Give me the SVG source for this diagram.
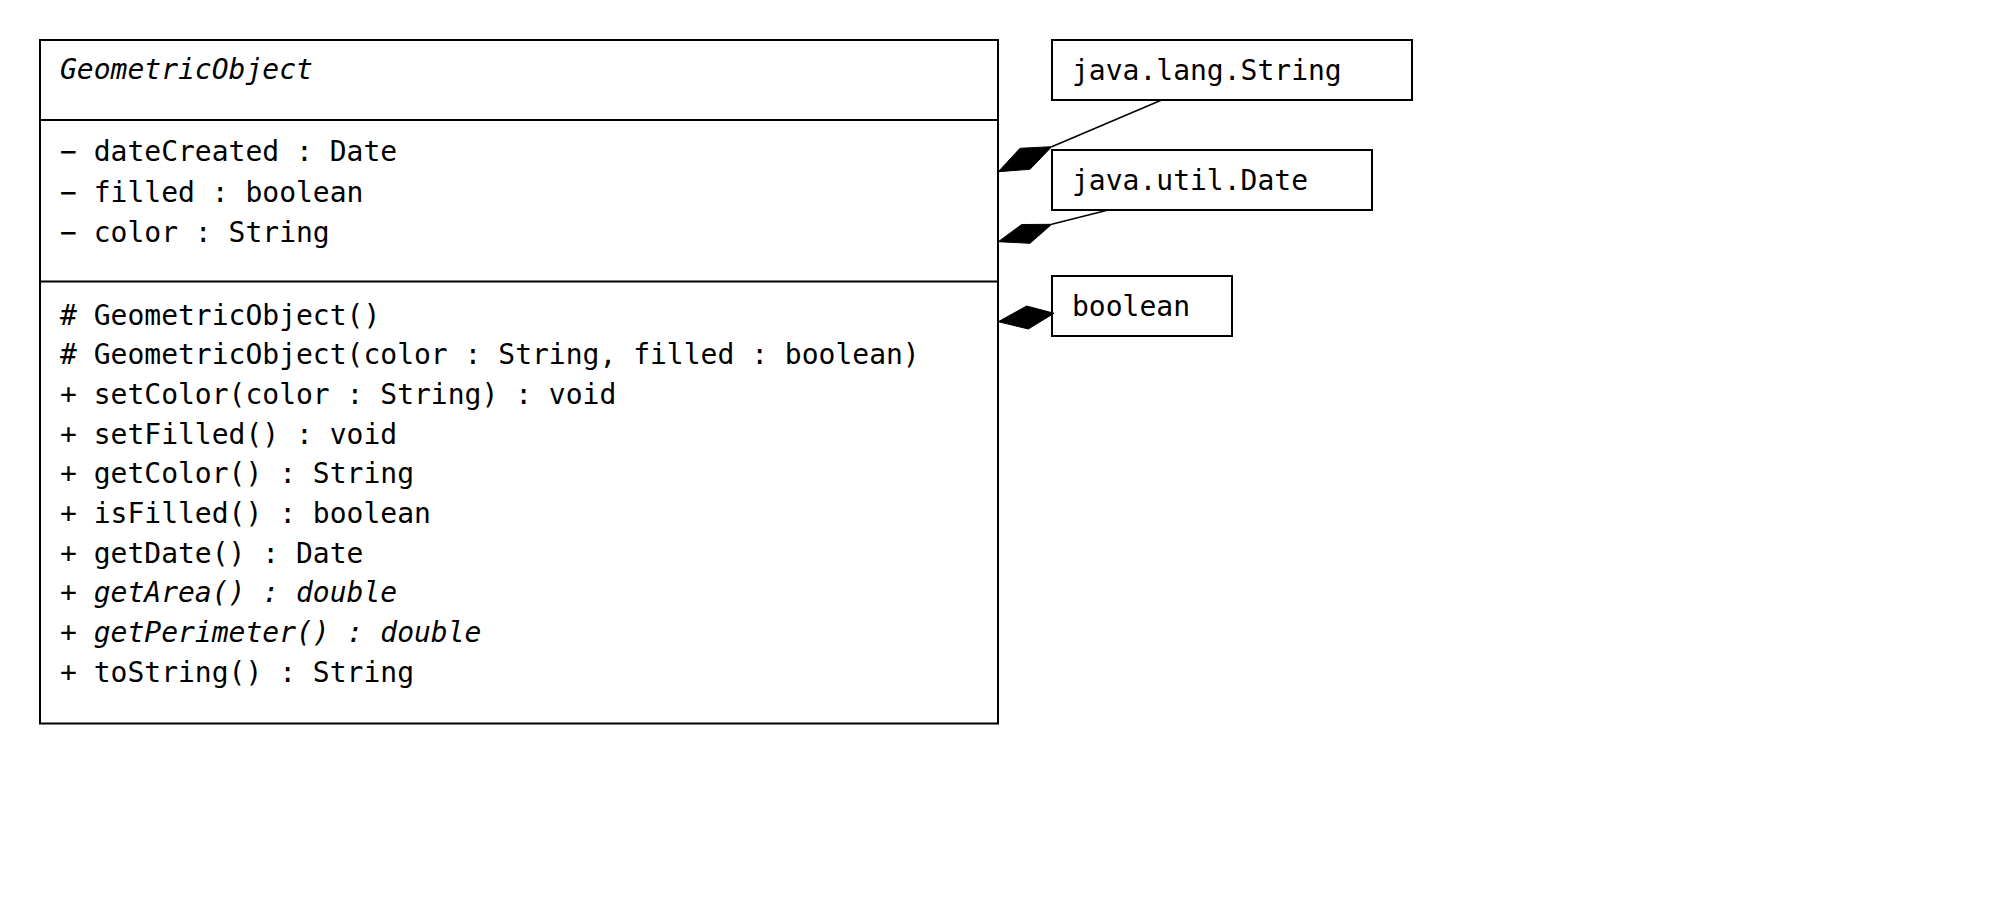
<svg xmlns="http://www.w3.org/2000/svg" width="1994" height="918" viewBox="0 0 1994 918">
<style>
.box{fill:#fff;stroke:#000;stroke-width:2}
.div{stroke:#000;stroke-width:2}
.t{font-family:"DejaVu Sans Mono","Liberation Mono",monospace;font-size:28px;fill:#000}
.i{font-style:italic}
.ln{stroke:#000;stroke-width:1.5;fill:none}
.dm{fill:#000;stroke:#000;stroke-width:1}
</style>
<rect width="1994" height="918" fill="#fff"/>
<g id="GeometricObject">
<rect class="box" x="40" y="40" width="958" height="683.5"/>
<line class="div" x1="40" y1="120" x2="998" y2="120"/>
<line class="div" x1="40" y1="281.5" x2="998" y2="281.5"/>
<text class="t i" x="60" y="79">GeometricObject</text>
<text class="t" x="60" y="161">− dateCreated : Date</text>
<text class="t" x="60" y="201.5">− filled : boolean</text>
<text class="t" x="60" y="241.5">− color : String</text>
<text class="t" x="60" y="324.5"># GeometricObject()</text>
<text class="t" x="60" y="364.2"># GeometricObject(color : String, filled : boolean)</text>
<text class="t" x="60" y="403.9">+ setColor(color : String) : void</text>
<text class="t" x="60" y="443.6">+ setFilled() : void</text>
<text class="t" x="60" y="483.3">+ getColor() : String</text>
<text class="t" x="60" y="523">+ isFilled() : boolean</text>
<text class="t" x="60" y="562.7">+ getDate() : Date</text>
<text class="t i" x="60" y="602.4">+ getArea() : double</text>
<text class="t i" x="60" y="642.1">+ getPerimeter() : double</text>
<text class="t" x="60" y="681.8">+ toString() : String</text>
</g>
<g id="String">
<rect class="box" x="1052" y="40" width="360" height="60"/>
<text class="t" x="1072" y="80">java.lang.String</text>
</g>
<g id="Date">
<rect class="box" x="1052" y="150" width="320" height="60"/>
<text class="t" x="1072" y="190">java.util.Date</text>
</g>
<g id="boolean">
<rect class="box" x="1052" y="276" width="180" height="60"/>
<text class="t" x="1072" y="316">boolean</text>
</g>
<g id="connectors">
<line class="ln" x1="1161.7" y1="100" x2="1051.7" y2="146.7"/>
<polygon class="dm" points="998.3,171.7 1020,148.3 1051.7,146.7 1030,169.3"/>
<line class="ln" x1="1108.3" y1="210" x2="1051.7" y2="224.3"/>
<polygon class="dm" points="998.3,241.7 1021.7,224.5 1051.7,224.3 1030,243.3"/>
<polygon class="dm" points="998.3,321.7 1026.7,306 1054,313.3 1028.3,329"/>
</g>
</svg>
